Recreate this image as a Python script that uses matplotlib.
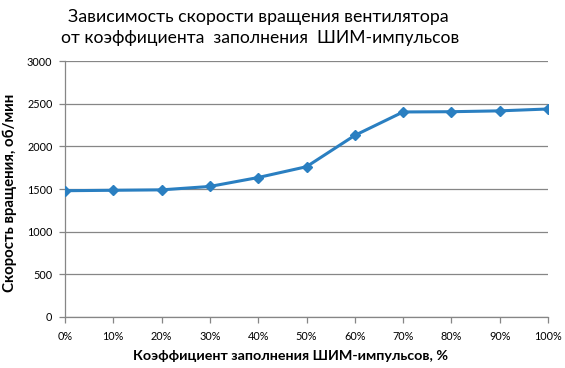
import matplotlib.pyplot as plt

# Data
duty = ['0%', '10%', '20%', '30%', '40%', '50%', '60%', '70%', '80%', '90%', '100%']
rpm = [1480, 1485, 1490, 1530, 1635, 1762, 2130, 2405, 2408, 2418, 2440]
y_ticks = [0, 500, 1000, 1500, 2000, 2500, 3000]

plt.rcParams['font.family'] = ['Lato', 'DejaVu Sans']

fig = plt.figure(figsize=(5.65, 3.68), dpi=100)
ax = fig.add_axes([0.115, 0.1394, 0.855, 0.694])

x = list(range(len(duty)))
ax.plot(x, rpm, color='#2a7fc1', lw=2.2, marker='D', ms=5.5, zorder=3)

ax.set_xlim(0, len(duty) - 1)
ax.set_ylim(0, 3000)
ax.set_yticks(y_ticks)
ax.set_xticks(x)
ax.set_xticklabels(duty)

grid_c = '#868686'
ax.grid(axis='y', color=grid_c, lw=0.9)
ax.set_axisbelow(True)
for s in ['top', 'right']:
    ax.spines[s].set_visible(False)
for s in ['left', 'bottom']:
    ax.spines[s].set_color(grid_c)
    ax.spines[s].set_linewidth(0.9)
ax.tick_params(axis='both', colors=grid_c, length=4, width=0.9, labelsize=7.8,
               labelcolor='black')
ax.tick_params(axis='x', pad=6)
ax.tick_params(axis='y', pad=5)

ax.set_xlabel('Коэффициент заполнения ШИМ-импульсов, %', fontsize=10.3,
              fontweight='bold')
ax.xaxis.set_label_coords(0.466, -0.13)
ax.set_ylabel('Скорость вращения, об/мин', fontsize=10.8, fontweight='bold')
ax.yaxis.set_label_coords(-0.1, 0.484)

fig.text(0.457, 0.955, 'Зависимость скорости вращения вентилятора',
         ha='center', va='center', fontsize=12.8)
fig.text(0.46, 0.897, 'от коэффициента  заполнения  ШИМ-импульсов',
         ha='center', va='center', fontsize=12.6)

fig.savefig('out.png', dpi=100)
